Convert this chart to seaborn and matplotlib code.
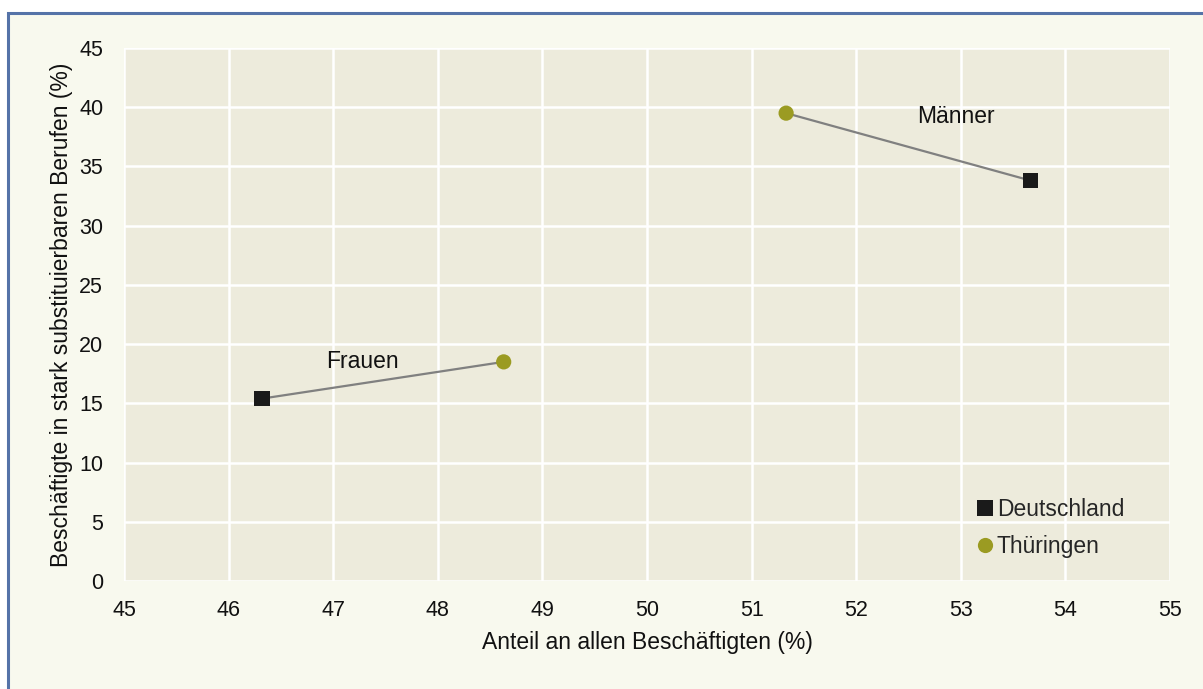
import matplotlib
matplotlib.use("Agg")
import matplotlib.pyplot as plt
import seaborn as sns
import pandas as pd
from matplotlib.patches import Rectangle

# Data
regions = ["Deutschland", "Deutschland", "Thüringen", "Thüringen"]
groups = ["Frauen", "Männer", "Frauen", "Männer"]
anteil = [46.32, 53.67, 48.63, 51.33]
substituierbar = [15.4, 33.8, 18.5, 39.5]
label_text = ["Frauen", "Männer"]
label_x = [47.28, 52.95]
label_y = [18.5, 39.2]
x_ticks = list(range(45, 56))
y_ticks = list(range(0, 50, 5))

df = pd.DataFrame({"Region": regions, "Gruppe": groups,
                   "x": anteil, "y": substituierbar})

sns.set_theme(style="white")
plt.rcParams["font.family"] = ["Liberation Sans", "DejaVu Sans"]

TXT = 16.5
TICK = 15.5

fig = plt.figure(figsize=(12.03, 6.89), dpi=100)
fig.patch.set_facecolor("white")
frame = Rectangle((8 / 1203, -0.05), 1.2, 1.05 - 13 / 689,
                  transform=fig.transFigure, facecolor="#F8F9EE",
                  edgecolor="#5573A8", linewidth=2.2, zorder=-10)
fig.patches.append(frame)

ax = fig.add_axes([124 / 1203, 1 - 581 / 689, 1046 / 1203, 533 / 689])
ax.set_zorder(1)
ax.set_facecolor("#EDEBDC")

sns.lineplot(data=df, x="x", y="y", units="Gruppe", estimator=None,
             sort=False, color="#808080", linewidth=1.6, ax=ax,
             legend=False, zorder=2)
palette = {"Deutschland": "#1a1a1a", "Thüringen": "#9B9B22"}
markers = {"Deutschland": "s", "Thüringen": "o"}
sns.scatterplot(data=df, x="x", y="y", hue="Region", style="Region",
                palette=palette, markers=markers, s=120, linewidth=0,
                ax=ax, zorder=3)

for t, lx, ly in zip(label_text, label_x, label_y):
    ax.text(lx, ly, t, ha="center", va="center", fontsize=TXT, color="#111111")

ax.set_xlim(45, 55)
ax.set_ylim(0, 45)
ax.set_xticks(x_ticks)
ax.set_yticks(y_ticks)
ax.grid(True, color="white", linewidth=1.8)
ax.set_axisbelow(True)
for s in ax.spines.values():
    s.set_visible(False)
ax.tick_params(axis="both", length=0, labelsize=TICK, colors="#111111")
ax.tick_params(axis="x", pad=14)
ax.tick_params(axis="y", pad=15)
ax.set_xlabel("Anteil an allen Beschäftigten (%)", fontsize=TXT,
              color="#111111")
ax.set_ylabel("Beschäftigte in stark substituierbaren Berufen (%)",
              fontsize=TXT, color="#111111")
ax.xaxis.label.set_va("center")
ax.yaxis.label.set_va("center")
ax.xaxis.set_label_coords(0.5, (581 - 643) / 533)
ax.yaxis.set_label_coords((62 - 124) / 1046, 0.5)

leg = ax.legend(loc="lower left", bbox_to_anchor=(0.795, 0.004), frameon=False,
                fontsize=TXT, labelspacing=0.6, handletextpad=0.1,
                handlelength=0.8, title=None, markerscale=1.0)

fig.savefig("out.png", dpi=100)
